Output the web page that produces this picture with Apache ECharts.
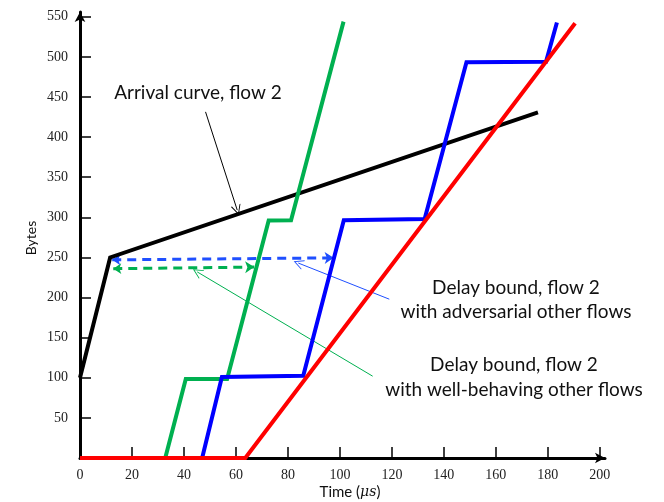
<!DOCTYPE html>
<html>
<head>
<meta charset="utf-8">
<script src="https://cdn.jsdelivr.net/npm/echarts@6/dist/echarts.min.js"></script>
<style>
  html, body { margin: 0; padding: 0; background: #fff; }
  #chart { width: 664px; height: 502px; }
</style>
</head>
<body>
<div id="chart"></div>
<script>
// tick values
var xTicks = [0, 20, 40, 60, 80, 100, 120, 140, 160, 180, 200];
var xTickMarks = [20, 40, 60, 80, 100, 120, 140, 160, 180, 200];
var yTicks = [50, 100, 150, 200, 250, 300, 350, 400, 450, 500, 550];

// curves, [time (us), bytes]
var arrivalCurve = [[0, 100], [11.6, 250], [176.2, 431]];
var wellBehaving = [[0, 0], [32.8, 0], [40.7, 98.5], [56.6, 98.5], [72.6, 296], [81.2, 296.5], [101.4, 544]];
var adversarial = [[0, 0], [47, 0], [54.6, 101], [85.9, 102.5], [101.5, 296.5], [132.6, 298], [148.7, 493.5], [179.3, 494], [183.5, 543]];
var serviceCurve = [[0, 0], [63.6, 0], [190.5, 542]];

// delay bound arrows and pointers
var delayAdversarial = [[12.4, 247], [97.6, 249.5]];
var delayWellBehaving = [[12.8, 236], [67, 238]];
var pointerArrival = [[48.3, 431.5], [60.5, 309]];
var pointerAdversarial = [[119, 198], [84, 243]];
var pointerWellBehaving = [[112.6, 102], [45.1, 232]];

var chart = echarts.init(document.getElementById('chart'));

var openArrow = 'path://M0,0 L-6,10 L-4.8,10 L0,2 L4.8,10 L6,10 Z';
var sans = 'Lato';

function curve(data, color) {
  return {
    type: 'line',
    data: data,
    showSymbol: false,
    silent: true,
    animation: false,
    lineStyle: { color: color, width: 4, join: 'miter' }
  };
}

function arrow(data, color, width, dashed, both, size) {
  return {
    type: 'lines',
    coordinateSystem: 'cartesian2d',
    polyline: false,
    silent: true,
    animation: false,
    symbol: both ? ['arrow', 'arrow'] : ['none', dashed ? 'arrow' : openArrow],
    symbolSize: size,
    lineStyle: { color: color, width: width, type: dashed ? [9, 6] : 'solid', opacity: 1 },
    data: [{ coords: data }]
  };
}

var option = {
  backgroundColor: '#fff',
  animation: false,
  grid: { left: 80, right: 59, top: 12, bottom: 44, containLabel: false },
  xAxis: {
    type: 'value',
    min: 0,
    max: 202,
    interval: 20,
    splitLine: { show: false },
    axisLine: { lineStyle: { color: '#000', width: 3 }, symbol: ['none', 'arrow'], symbolSize: [8, 10] },
    axisTick: { inside: true, length: 11, lineStyle: { color: '#000', width: 1.5 }, customValues: xTickMarks },
    axisLabel: { customValues: xTicks, fontFamily: 'Liberation Serif', fontSize: 14, color: '#222', margin: 10 }
  },
  yAxis: {
    type: 'value',
    min: 0,
    max: 556,
    interval: 50,
    splitLine: { show: false },
    axisLine: { lineStyle: { color: '#000', width: 3 }, symbol: ['none', 'arrow'], symbolSize: [8, 10] },
    axisTick: { inside: true, length: 11, lineStyle: { color: '#000', width: 1.5 }, customValues: yTicks },
    axisLabel: { customValues: yTicks, fontFamily: 'Liberation Serif', fontSize: 14, color: '#222', margin: 12 }
  },
  series: [
    curve(arrivalCurve, '#000'),
    curve(wellBehaving, '#00b050'),
    curve(adversarial, '#0000ff'),
    curve(serviceCurve, '#ff0000'),
    arrow(delayWellBehaving, '#00b050', 3, true, true, [8, 9]),
    arrow(delayAdversarial, '#1f4fff', 3, true, true, [8, 9]),
    arrow(pointerArrival, '#000', 1, false, false, [9, 10]),
    arrow(pointerAdversarial, '#1f4fff', 1, false, false, [9, 10]),
    arrow(pointerWellBehaving, '#00b050', 1, false, false, [9, 10])
  ],
  graphic: [
    { type: 'text', x: 198, y: 93, style: { text: 'Arrival curve, flow 2', font: '19px ' + sans, fill: '#111', align: 'center', verticalAlign: 'middle' } },
    { type: 'text', x: 516, y: 288, style: { text: 'Delay bound, flow 2', font: '19px ' + sans, fill: '#111', align: 'center', verticalAlign: 'middle' } },
    { type: 'text', x: 516, y: 312, style: { text: 'with adversarial other flows', font: '19px ' + sans, fill: '#111', align: 'center', verticalAlign: 'middle' } },
    { type: 'text', x: 514, y: 365, style: { text: 'Delay bound, flow 2', font: '19px ' + sans, fill: '#111', align: 'center', verticalAlign: 'middle' } },
    { type: 'text', x: 514, y: 390, style: { text: 'with well-behaving other flows', font: '19px ' + sans, fill: '#111', align: 'center', verticalAlign: 'middle' } },
    { type: 'text', x: 31, y: 238, rotation: Math.PI / 2, style: { text: 'Bytes', font: '14px ' + sans, fill: '#111', align: 'center', verticalAlign: 'middle' } },
    { type: 'text', x: 350, y: 492, style: {
        text: 'Time ({i|μs})', font: '15px ' + sans, fill: '#111', align: 'center', verticalAlign: 'middle',
        rich: { i: { fontStyle: 'italic', fontFamily: 'DejaVu Serif', fontSize: 14, fill: '#111' } }
      } }
  ]
};

chart.setOption(option);
</script>
</body>
</html>
